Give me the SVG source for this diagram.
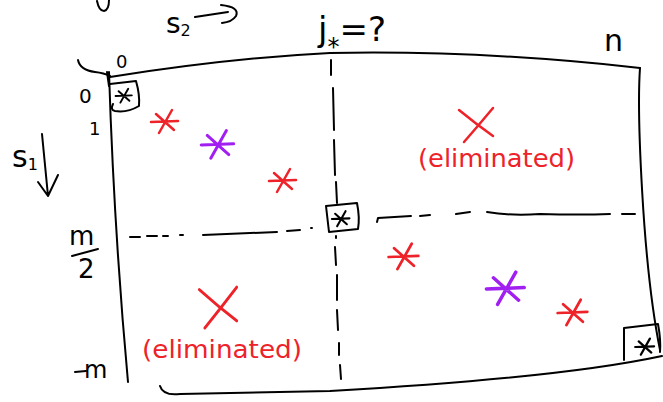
<svg xmlns="http://www.w3.org/2000/svg" width="663" height="402" viewBox="0 0 663 402">
<style>
.k{fill:none;stroke:#000;stroke-width:2;stroke-linecap:round;stroke-linejoin:round}
.bs{stroke-width:3.2}
.r{fill:none;stroke:#ee2229;stroke-width:2.5;stroke-linecap:round}
.p{fill:none;stroke:#a21ff2;stroke-width:2.5;stroke-linecap:round}
.t{font-family:"DejaVu Sans",sans-serif;fill:#000}
.e{font-family:"DejaVu Sans",sans-serif;fill:#ee2229;font-size:24px}
</style>
<defs>
<g id="star"><path d="M-14,0 L13,-1 M-6,11 L7,-12 M-9,-8 L9,8"/></g>
<g id="cross"><path d="M-17,-12 Q0,2 17,14 M17,-14 Q2,4 -12,20"/></g>
</defs>
<rect width="663" height="402" fill="#fff"/>
<g id="frame" class="k">
<path d="M110,77 Q230,58 330,53 Q480,50 640,68"/>
<path d="M109,72 Q114,230 128,382"/>
<path d="M107,72 L109,86"/>
<path d="M640,68 C637,110 642,260 660,350"/>
<path d="M160,386 Q163,396 180,394 L330,391 Q560,378 662,356"/>
</g>
<g id="dividers" class="k">
<path d="M331,60 L331,75 M333,88 L334,130 M334,140 L335,175 M336,182 L337,203"/>
<path d="M336,236 L336,238 M335,247 L336,265 M337,275 L337,300 M337,310 L338,330 M339,343 L339,355 M340,365 L341,379"/>
<path d="M130,237 L140,237 M147,236 L157,236 M163,236 L168,236 M180,235 L183,235 M203,235 L277,232 M287,231 L300,230 M311,228 L312,228"/>
<path d="M377,222 L378,218 L411,216 M420,216 L430,215 M456,214 L470,212 M487,212 Q510,216 540,214 Q580,215 610,214 M622,214 L635,214"/>
</g>
<g id="box-topleft" class="k">
<path d="M110,84 L136,81 Q140,95 139,106 Q127,113 115,111 Q110,110 113,104"/>
<use href="#star" class="bs" transform="translate(124,96) scale(0.6)"/>
</g>
<g id="box-center" class="k">
<path d="M326,206 L357,203 Q360,218 358,229 L329,232 Z"/>
<use href="#star" class="bs" transform="translate(341,219) scale(0.65)"/>
</g>
<g id="box-corner" class="k">
<path d="M624,360 L624,328 L658,324 Q661,340 660,352"/>
<use href="#star" class="bs" transform="translate(645,347) scale(0.7)"/>
</g>
<g id="marks">
<use href="#star" class="r" transform="translate(165,122)"/>
<use href="#star" class="p" transform="translate(218,145) scale(1.2)"/>
<use href="#star" class="r" transform="translate(283,181)"/>
<use href="#star" class="r" transform="translate(404,257) scale(1.1)"/>
<use href="#star" class="p" transform="translate(506,289) scale(1.4)"/>
<use href="#star" class="r" transform="translate(573,313) scale(1.1)"/>
<use href="#cross" class="r" transform="translate(476,122)"/>
<use href="#cross" class="r" transform="translate(218,304) scale(1.1,1.2)"/>
</g>
<g id="labels">
<path class="k" d="M97,1 Q99,11 104,11 Q109,10 109,0" stroke-width="5"/>
<text class="t" x="166" y="33" font-size="28">s<tspan font-size="16" dy="3">2</tspan></text>
<path class="k" d="M195,17 L228,12 M221,5 Q240,7 236,16 Q232,22 222,23"/>
<text class="t" x="318" y="41" font-size="34">j<tspan font-size="24" dy="14">*</tspan><tspan dy="-14">=?</tspan></text>
<text class="t" x="604" y="51" font-size="30">n</text>
<text class="t" x="116" y="68" font-size="18">0</text>
<path class="k" d="M78,60 Q80,70 95,72 Q104,73 110,76"/>
<text class="t" x="79" y="103" font-size="20">0</text>
<text class="t" x="89" y="135" font-size="18">1</text>
<text class="t" x="12" y="167" font-size="30">s<tspan font-size="16" dy="3">1</tspan></text>
<path class="k" d="M42,134 L48,196 M38,182 L48,196 L58,175"/>
<text class="t" x="69" y="245" font-size="26">m</text>
<path class="k" d="M72,256 L98,249"/>
<text class="t" x="78" y="278" font-size="26">2</text>
<path class="k" d="M75,372 L86,371"/>
<text class="t" x="84" y="378" font-size="24">m</text>
<text class="e" x="418" y="167" textLength="157" lengthAdjust="spacingAndGlyphs">(eliminated)</text>
<text class="e" x="142" y="358" textLength="160" lengthAdjust="spacingAndGlyphs">(eliminated)</text>
</g>
</svg>
